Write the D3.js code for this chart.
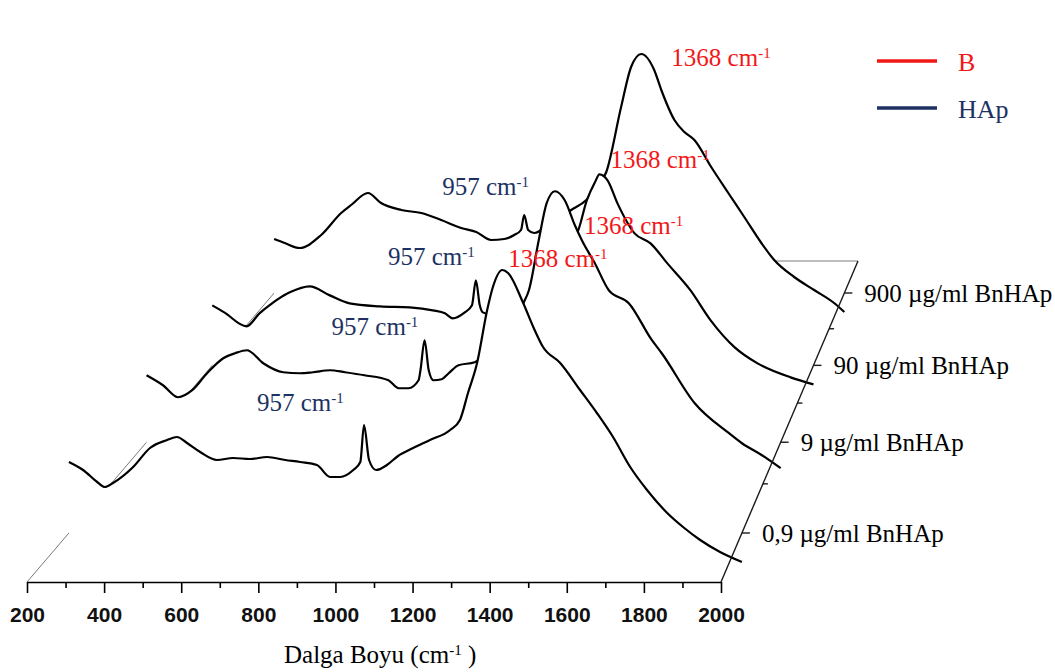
<!DOCTYPE html>
<html>
<head>
<meta charset="utf-8">
<script src="https://cdn.jsdelivr.net/npm/d3@7"></script>
<style>
  html, body { margin: 0; padding: 0; background: #fff; }
  svg { display: block; }
</style>
</head>
<body>
<svg id="chart" width="1055" height="672"></svg>
<script>
// Raman spectra of BnHAp at four concentrations, drawn as a 3D waterfall
// (front slice = lowest concentration). Each slice is [wavenumber cm-1, counts].

const concentrations = ["0,9 µg/ml BnHAp", "9 µg/ml BnHAp", "90 µg/ml BnHAp", "900 µg/ml BnHAp"];

const axisTicks = [200, 400, 600, 800, 1000, 1200, 1400, 1600, 1800, 2000];
const axisMinorTicks = [300, 500, 700, 900, 1100, 1300, 1500, 1700, 1900];

const spectrumRange = [80, 2080];
const hapPeak = 957;   // phosphate band (HAp)
const bPeak = 1368;    // boron band (B)

const spectrum09 = [
  [80,1010],[122,930],[164,810],[187,760],[211,800],[271,960],[321,1150],[372,1230],
  [401,1260],[431,1200],[470,1110],[520,1030],[568,1050],[618,1040],[669,1060],[723,1030],
  [767,1010],[817,980],[856,860],[886,860],[925,930],[946,1010],[957,1380],[972,1030],
  [993,930],[1025,980],[1058,1070],[1103,1150],[1153,1230],[1213,1330],[1242,1430],
  [1266,1700],[1293,2000],[1323,2530],[1340,2760],[1368,2930],[1385,2900],[1430,2600],
  [1460,2360],[1489,2160],[1540,2000],[1599,1730],[1649,1500],[1697,1260],[1748,960],
  [1798,730],[1858,500],[1905,360],[1956,230],[2015,110],[2080,10]
];

const spectrum9 = [
  [80,970],[132,870],[180,750],[224,820],[271,990],[322,1140],[359,1190],[397,1220],
  [448,1090],[511,1000],[564,990],[605,1000],[659,1020],[706,1000],[767,970],[843,920],
  [875,840],[906,840],[938,920],[944,1020],[957,1320],[970,1020],[985,920],[1011,930],
  [1033,990],[1064,1070],[1115,1100],[1153,1200],[1191,1340],[1232,1520],[1270,1700],
  [1286,1820],[1317,2320],[1342,2690],[1368,2810],[1399,2720],[1431,2470],[1453,2320],
  [1494,2090],[1538,1820],[1601,1690],[1674,1320],[1705,1190],[1809,690],[1917,390],
  [1958,290],[2021,170],[2080,40]
];

const spectrum90 = [
  [80,900],[120,830],[194,690],[237,820],[270,900],[338,1030],[404,1090],[471,1000],
  [537,920],[638,890],[737,880],[814,850],[854,820],[880,770],[920,830],[944,900],
  [957,1150],[970,900],[980,830],[1020,800],[1070,830],[1113,890],[1153,1100],[1203,1370],
  [1253,1530],[1293,1620],[1326,1950],[1353,2130],[1368,2210],[1395,2150],[1428,1920],
  [1485,1620],[1538,1520],[1594,1320],[1671,1050],[1738,750],[1818,480],[1894,320],
  [2004,180],[2080,110]
];

const spectrum900 = [
  [80,840],[117,800],[170,750],[245,880],[315,1100],[350,1180],[409,1300],[455,1200],
  [526,1130],[596,1100],[666,1030],[736,950],[789,910],[841,830],[887,840],[922,880],
  [946,930],[957,1080],[971,930],[992,900],[1052,1010],[1122,1130],[1175,1230],[1210,1350],
  [1245,1510],[1297,2160],[1332,2560],[1368,2690],[1413,2530],[1438,2330],[1484,2030],
  [1519,1910],[1554,1830],[1613,1560],[1673,1300],[1729,1060],[1789,800],[1834,630],
  [1904,460],[1974,330],[2044,200],[2080,110]
];

const spectra = [spectrum09, spectrum9, spectrum90, spectrum900];

const legendLabels = ["B", "HAp"];

// ---------------------------------------------------------------------------
const RED = "#f21818";
const NAVY = "#1d3263";
const SERIF = "'Liberation Serif', 'Times New Roman', serif";
const SANS = "'Liberation Sans', Arial, sans-serif";

const svg = d3.select("#chart");

// Floor of the 3D box: front edge is the wavenumber axis, back edge is higher up.
const floorFront = 582, floorBack = 261;
const xAxisScale = d3.scaleLinear().domain([200, 2000]).range([27, 721]);
const leftEdge = d3.scaleLinear().domain([floorFront, floorBack]).range([27, 301.5]);
const rightEdge = d3.scaleLinear().domain([floorFront, floorBack]).range([721, 858]);
// depth position of each slice (perspective-compressed toward the back)
const depth = d3.scalePow().exponent(0.885).domain([0, 3]).range([533, 293]);
const zeroDrop = 30;             // zero-count level lies a little below each slice's floor line
const countHeight = d3.scaleLinear().domain([0, 3000]).range([0, 300]);

function sliceScales(k) {
  const floorY = depth(k);
  const zeroY = floorY + zeroDrop;
  const x = d3.scaleLinear().domain(spectrumRange).range([leftEdge(floorY), rightEdge(floorY)]);
  const y = d3.scaleLinear().domain([0, 3000]).range([zeroY, zeroY - countHeight(3000)]);
  return { floorY, zeroY, x, y };
}

// floor edges that sit behind the slices
const floorG = svg.append("g").attr("stroke", "#7a7a7a").attr("stroke-width", 1).attr("fill", "none");
floorG.append("line")
  .attr("x1", leftEdge(floorFront)).attr("y1", floorFront)
  .attr("x2", leftEdge(floorBack)).attr("y2", floorBack);
floorG.append("line")
  .attr("x1", leftEdge(floorBack)).attr("y1", floorBack)
  .attr("x2", rightEdge(floorBack)).attr("y2", floorBack);

// slices, back to front, each with a white fill hiding what lies behind it
const slicesG = svg.append("g");
for (let k = spectra.length - 1; k >= 0; k--) {
  const s = sliceScales(k);
  const area = d3.area()
    .x(d => s.x(d[0])).y0(s.zeroY).y1(d => s.y(d[1]))
    .curve(d3.curveMonotoneX);
  const line = d3.line()
    .x(d => s.x(d[0])).y(d => s.y(d[1]))
    .curve(d3.curveMonotoneX);
  slicesG.append("path").datum(spectra[k]).attr("d", area).attr("fill", "#fff");
  slicesG.append("path").datum(spectra[k]).attr("d", line)
    .attr("fill", "none").attr("stroke", "#000").attr("stroke-width", 2.2)
    .attr("stroke-linejoin", "round");
}

// depth axis on the right
const depthG = svg.append("g").attr("stroke", "#1a1a1a").attr("stroke-width", 1.4);
depthG.append("line")
  .attr("x1", rightEdge(floorFront)).attr("y1", floorFront)
  .attr("x2", rightEdge(floorBack)).attr("y2", floorBack);
const depthTicks = d3.range(0, 3.01, 0.5);
depthTicks.forEach(v => {
  const y = depth(v);
  const major = Number.isInteger(v);
  depthG.append("line")
    .attr("x1", rightEdge(y)).attr("y1", y)
    .attr("x2", rightEdge(y) + (major ? 8 : 5)).attr("y2", y);
});
svg.append("g").selectAll("text").data(concentrations).join("text")
  .attr("x", (d, k) => rightEdge(depth(k)) + 20)
  .attr("y", (d, k) => depth(k) + 9)
  .attr("font-family", SERIF).attr("font-size", 25).attr("fill", "#000")
  .text(d => d);

// wavenumber axis along the front edge
const axisG = svg.append("g").attr("transform", `translate(0,${floorFront})`);
axisG.call(d3.axisBottom(xAxisScale).tickValues(axisTicks).tickSize(11).tickSizeOuter(0).tickPadding(14)
  .tickFormat(d3.format("d")));
axisG.call(g => g.select(".domain").attr("stroke", "#000").attr("stroke-width", 1.6));
axisG.selectAll(".tick line").attr("stroke", "#000").attr("stroke-width", 1.6);
axisG.selectAll(".tick text")
  .attr("font-family", SANS).attr("font-size", 21).attr("font-weight", "bold").attr("fill", "#111");
const minorG = svg.append("g").attr("transform", `translate(0,${floorFront})`);
minorG.call(d3.axisBottom(xAxisScale).tickValues(axisMinorTicks).tickSize(6).tickSizeOuter(0).tickFormat(""));
minorG.select(".domain").remove();
minorG.selectAll(".tick line").attr("stroke", "#000").attr("stroke-width", 1.6);

// text with a "-1" superscript
function cmLabel(sel, lead, trail) {
  sel.append("tspan").text(lead);
  sel.append("tspan").attr("dy", -8).attr("font-size", 15).text("-1");
  if (trail) sel.append("tspan").attr("dy", 8).text(trail);
}

// axis title
svg.append("text")
  .attr("x", 284).attr("y", 663)
  .attr("font-family", SERIF).attr("font-size", 25).attr("fill", "#000")
  .call(cmLabel, "Dalga Boyu (cm", " )");

// peak annotations, placed next to each slice's peak
const peakLabelOffsets = {
  [hapPeak]: [[-107, -14], [-93, -5], [-88, -15], [-82, -20]],
  [bPeak]: [[6, -3], [29, 43], [11, -6], [30, 12]]
};
const annG = svg.append("g").attr("font-family", SERIF).attr("font-size", 25);
spectra.forEach((spec, k) => {
  const s = sliceScales(k);
  [[hapPeak, NAVY], [bPeak, RED]].forEach(([peak, color]) => {
    const pt = spec.find(d => d[0] === peak);
    const [dx, dy] = peakLabelOffsets[peak][k];
    annG.append("text")
      .attr("x", s.x(pt[0]) + dx).attr("y", s.y(pt[1]) + dy)
      .attr("fill", color)
      .call(cmLabel, `${peak} cm`);
  });
});

// legend
const legendColors = [RED, NAVY];
const legendG = svg.append("g");
legendLabels.forEach((lab, i) => {
  const y = 61 + i * 47;
  legendG.append("line")
    .attr("x1", 877).attr("x2", 937).attr("y1", y).attr("y2", y)
    .attr("stroke", legendColors[i]).attr("stroke-width", 3.6);
  legendG.append("text")
    .attr("x", 958).attr("y", y + 10)
    .attr("font-family", SERIF).attr("font-size", 26).attr("fill", legendColors[i])
    .text(lab);
});
</script>
</body>
</html>
